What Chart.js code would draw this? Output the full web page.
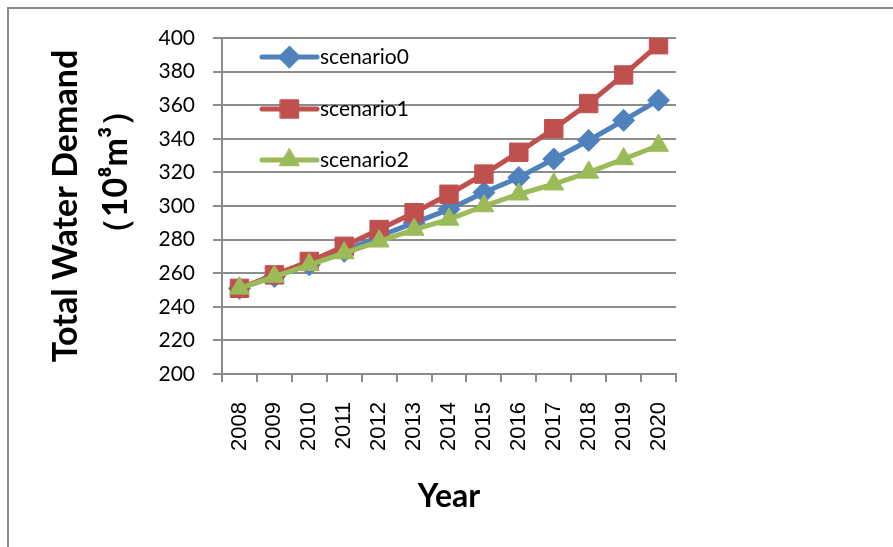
<!DOCTYPE html>
<html>
<head>
<meta charset="utf-8">
<title>Total Water Demand</title>
<script src="https://cdn.jsdelivr.net/npm/chart.js@4/dist/chart.umd.min.js"></script>
<style>
  body { margin: 0; background: #fff; }
  canvas { display: block; }
</style>
</head>
<body>
<canvas id="demand" width="893" height="547"></canvas>
<script>
const years = ["2008", "2009", "2010", "2011", "2012", "2013", "2014", "2015", "2016", "2017", "2018", "2019", "2020"];
const scenario0 = [251, 258, 265, 273, 282, 290, 298, 308, 317, 328, 339, 351, 363];
const scenario1 = [251, 259, 267, 276, 286, 296, 307, 319, 332, 346, 361, 378, 396];
const scenario2 = [251, 258, 265, 272, 279, 286, 292, 300, 307, 313, 320, 328, 336];
const seriesNames = ["scenario0", "scenario1", "scenario2"];

const gridGray = "#8c8c8c";
const colors = ["#4f81bd", "#c0504d", "#9bbb59"];
const markers = ["rectRot", "rect", "triangle"];
const markerSize = [11, 13, 11.5];

// grey frame along the top and left edges
const framePlugin = {
  id: "frame",
  beforeDraw(chart) {
    const ctx = chart.ctx;
    ctx.save();
    ctx.strokeStyle = "#8a8a8a";
    ctx.lineWidth = 2;
    ctx.beginPath();
    ctx.moveTo(893, 8);
    ctx.lineTo(8, 8);
    ctx.lineTo(8, 547);
    ctx.stroke();
    ctx.restore();
  }
};

// legend sits inside the plot, top-left, with widely spaced rows
const innerLegend = {
  id: "innerLegend",
  afterDatasetsDraw(chart) {
    const ctx = chart.ctx;
    const area = chart.chartArea;
    const rowY = [19, 71, 122];
    ctx.save();
    chart.data.datasets.forEach((ds, i) => {
      const y = area.top + rowY[i];
      const x0 = area.left + 40, x1 = area.left + 95;
      ctx.strokeStyle = ds.borderColor;
      ctx.lineWidth = 5;
      ctx.lineCap = "round";
      ctx.beginPath();
      ctx.moveTo(x0, y);
      ctx.lineTo(x1, y);
      ctx.stroke();
      ctx.fillStyle = ds.pointBackgroundColor;
      ctx.strokeStyle = ds.pointBorderColor;
      ctx.lineWidth = 1;
      Chart.helpers.drawPoint(ctx, { pointStyle: ds.pointStyle, radius: ds.pointRadius, rotation: 0, borderWidth: 1 }, (x0 + x1) / 2, y);
      ctx.fillStyle = "#000";
      ctx.font = "21px Lato";
      ctx.textBaseline = "middle";
      ctx.textAlign = "left";
      ctx.fillText(ds.label, x1 + 3, y);
    });
    ctx.restore();
  }
};

const seriesData = [scenario0, scenario1, scenario2];

new Chart(document.getElementById("demand"), {
  type: "line",
  plugins: [framePlugin, innerLegend],
  data: {
    labels: years,
    datasets: seriesData.map((values, i) => ({
      label: seriesNames[i],
      data: values,
      borderColor: colors[i],
      backgroundColor: colors[i],
      pointBackgroundColor: colors[i],
      pointBorderColor: colors[i],
      pointStyle: markers[i],
      pointRadius: markerSize[i],
      pointBorderWidth: 1,
      borderWidth: 5,
      tension: 0,
      order: 2 - i
    }))
  },
  options: {
    responsive: false,
    animation: false,
    layout: { padding: { top: 38, right: 217, left: 0, bottom: 0 } },
    plugins: {
      legend: { display: false },
      tooltip: { enabled: false }
    },
    scales: {
      x: {
        offset: true,
        afterFit: (s) => { s.height = 173; },
        grid: { offset: true, drawOnChartArea: false, tickLength: 8, color: gridGray, lineWidth: 2 },
        border: { color: gridGray, width: 2 },
        ticks: {
          minRotation: 90, maxRotation: 90, padding: 20,
          color: "#000", font: { family: "Liberation Sans", size: 22 }
        },
        title: {
          display: true, text: "Year", color: "#000",
          font: { family: "Lato", size: 32, weight: "bold" },
          padding: { top: 0, bottom: 31 }
        }
      },
      y: {
        min: 200,
        max: 400,
        afterFit: (s) => { s.width = 222; },
        grid: { color: gridGray, lineWidth: 2, tickLength: 9 },
        border: { color: gridGray, width: 2 },
        ticks: {
          stepSize: 20, padding: 18, color: "#000",
          font: { family: "Lato", size: 21 }
        },
        title: {
          display: true,
          text: ["Total Water Demand", "\u2003\u2003\u2002（10⁸m³）"],
          color: "#000",
          font: { family: "Lato", size: 34, weight: "bold", lineHeight: 1.47 },
          padding: { top: 41, bottom: 0 }
        }
      }
    }
  }
});
</script>
</body>
</html>
